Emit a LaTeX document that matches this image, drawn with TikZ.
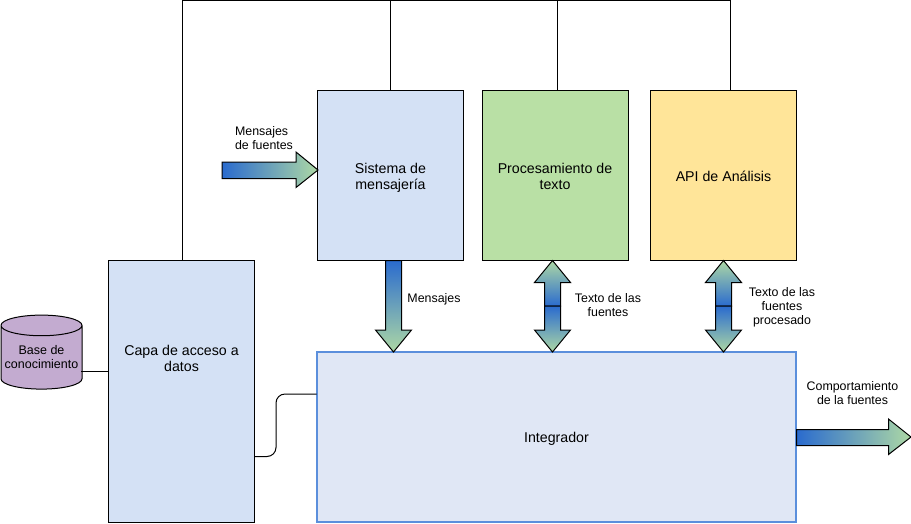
\documentclass[tikz,border=0pt]{standalone}
\usepackage{fontspec}
\setmainfont{Liberation Sans}
\usetikzlibrary{shapes.geometric,calc}
\definecolor{bluebox}{HTML}{D4E1F5}
\definecolor{greenbox}{HTML}{B9E0A5}
\definecolor{yellowbox}{HTML}{FFE599}
\definecolor{intfill}{HTML}{E0E7F5}
\definecolor{intline}{HTML}{5B8FDC}
\definecolor{cylfill}{HTML}{C3ABD0}
\definecolor{gradblue}{HTML}{2A6BCE}
\definecolor{gradgreen}{HTML}{ADD8A5}
\tikzset{
  x=1pt,y=-1pt,
  box/.style={draw=black,line width=1pt,inner sep=0pt},
  boxtext/.style={align=center,inner sep=0pt,font=\fontsize{14.2}{16}\selectfont},
  lbl/.style={align=center,inner sep=0pt,font=\fontsize{12.4}{14}\selectfont},
  conn/.style={draw=black,line width=1pt},
  arrowh/.style={draw=black,line width=1pt,line join=miter,left color=gradblue,right color=gradgreen},
  arrowv/.style={draw=black,line width=1pt,line join=miter,top color=gradblue,bottom color=gradgreen},
  arrowu/.style={draw=black,line width=1pt,line join=miter,top color=gradgreen,bottom color=gradblue},
}
\begin{document}
\begin{tikzpicture}
\useasboundingbox (0,0) rectangle (911,523);
\node[box,fill=bluebox,minimum width=146pt,minimum height=169.5pt] (sis) at (390.5,175.25) {};
\node[box,fill=greenbox,minimum width=146pt,minimum height=169.5pt] (proc) at (555.5,175.25) {};
\node[box,fill=yellowbox,minimum width=146pt,minimum height=169.5pt] (api) at (723.5,175.25) {};
\node[box,fill=bluebox,minimum width=146pt,minimum height=261.5pt] (capa) at (181.5,391.25) {};
\node[box,draw=intline,line width=2pt,fill=intfill,minimum width=479pt,minimum height=170pt] (int) at (556.8,437) {};
\node[boxtext] (sist) at (390.5,178) {Sistema de\\mensajería};
\node[boxtext] (proct) at (555,176) {Procesamiento de\\texto};
\node[boxtext] (apit) at (723.5,176.5) {API de Análisis};
\node[boxtext] (capat) at (181.5,358.5) {Capa de acceso a\\datos};
\node[boxtext] (intt) at (556.5,439) {Integrador};
\node[draw=black,line width=1pt,fill=cylfill,shape=cylinder,shape border rotate=90,aspect=0.28,minimum width=81pt,minimum height=74pt,inner sep=0pt,align=center,font=\fontsize{12.5}{14}\selectfont] (kb) at (41.5,357.5) {Base de\\conocimiento};
% top bus
\coordinate (bus) at (182,0.5);
\coordinate (apibus) at (730,0.5);
\coordinate (apijog) at (730,45);
\draw[conn] (capa.north -| bus) -- (bus) -- (apibus) -- (apijog) -- (730.2,45) -- (730.2,90.5);
\draw[conn] (sis.north) -- (sis.north |- bus);
\coordinate (procx) at (557.5,0.5);
\draw[conn] (procx |- proc.north) -- (procx);
% side connectors
\coordinate (kbout) at (81,371.5);
\draw[conn] (kbout) -- (capa.west |- kbout);
\coordinate (capaout) at (254.5,456.5);
\coordinate (intin) at (316.5,394);
\draw[conn,rounded corners=9pt] (capaout) -- (276,456.5) -- (276,394) -- (intin);
% block arrows
\path[arrowh] (222,162) -- (296,162) -- (296,152) -- (318,170) -- (296,187.5) -- (296,178.5) -- (222,178.5) -- cycle;
\path[arrowv] (385.5,260.5) -- (401.5,260.5) -- (401.5,330) -- (411.5,330) -- (393.5,352) -- (375.5,330) -- (385.5,330) -- cycle;
\path[arrowu] (552.5,260.5) -- (570.5,282.5) -- (560.5,282.5) -- (560.5,306) -- (544.5,306) -- (544.5,282.5) -- (534.5,282.5) -- cycle;
\path[arrowv] (544.5,306) -- (560.5,306) -- (560.5,330) -- (570.5,330) -- (552.5,352) -- (534.5,330) -- (544.5,330) -- cycle;
\path[arrowu] (723.5,260.5) -- (741.5,282.5) -- (731.5,282.5) -- (731.5,306) -- (715.5,306) -- (715.5,282.5) -- (705.5,282.5) -- cycle;
\path[arrowv] (715.5,306) -- (731.5,306) -- (731.5,330) -- (741.5,330) -- (723.5,352) -- (705.5,330) -- (715.5,330) -- cycle;
\path[arrowh] (796.5,429.5) -- (888.5,429.5) -- (888.5,419) -- (911,437) -- (888.5,454.5) -- (888.5,445.5) -- (796.5,445.5) -- cycle;
% labels
\node[lbl,align=left] (l1) at (264,138) {Mensajes\\de fuentes};
\node[lbl] (l2) at (434,299) {Mensajes};
\node[lbl] (l3) at (608,305.5) {Texto de las\\fuentes};
\node[lbl] (l4) at (782,307.5) {Texto de las\\fuentes\\procesado};
\node[lbl] (l5) at (852.5,393.5) {Comportamiento\\de la fuentes};
\end{tikzpicture}
\end{document}
